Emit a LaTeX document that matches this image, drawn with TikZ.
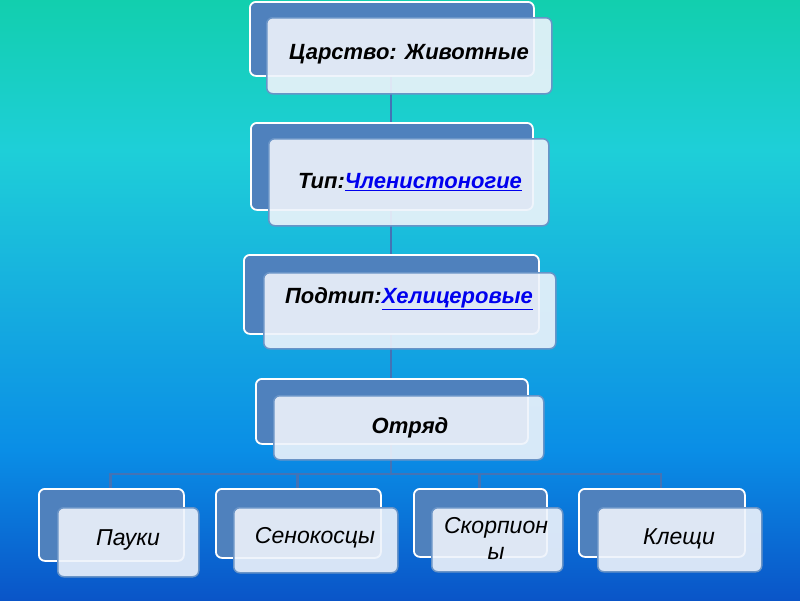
\documentclass[tikz,border=0pt]{standalone}
\usepackage{fontspec}
\setmainfont{Liberation Sans}
\definecolor{bgA}{HTML}{12CFAE}
\definecolor{bgB}{HTML}{1ECFD8}
\definecolor{bgC}{HTML}{16AEDF}
\definecolor{bgD}{HTML}{0A8EE6}
\definecolor{bgE}{HTML}{0A55C8}
\definecolor{backblue}{HTML}{4F81BD}
\definecolor{frontfill}{HTML}{EEF3FB}
\definecolor{linkblue}{HTML}{0000EE}
\definecolor{conn}{HTML}{4373B5}
\pgfdeclareverticalshading{bgshade}{100bp}{color(0bp)=(bgE); color(25bp)=(bgE); color(37.5bp)=(bgD); color(50bp)=(bgC); color(62.5bp)=(bgB); color(75bp)=(bgA); color(100bp)=(bgA)}
\tikzset{
  backbox/.style={draw=white, line width=1.8pt, fill=backblue, rounded corners=6pt, inner sep=0pt, anchor=north west},
  frontbox/.style={draw=backblue!85, line width=1.5pt, fill=frontfill, fill opacity=0.9, rounded corners=6pt, inner sep=0pt, anchor=north west},
  toptext/.style={font=\fontsize{22}{26}\selectfont\bfseries\itshape, inner sep=0pt},
  bottext/.style={font=\fontsize{23}{26}\selectfont\itshape, inner sep=0pt, align=center},
  connector/.style={draw=conn, line width=2.3pt},
}
\newcommand{\lnk}[1]{{\color{linkblue}\underline{#1}}}
\begin{document}
\begin{tikzpicture}[x=1pt,y=-1pt]
\useasboundingbox (0,0) rectangle (800,600);
\shade[shading=bgshade] (0,0) rectangle (800,600);
% named anchor points of the back boxes (for connectors drawn first)
\coordinate (b1s) at (391,75);
\coordinate (b2n) at (391,122);
\coordinate (b2s) at (391,209);
\coordinate (b3n) at (391,254);
\coordinate (b3s) at (391,333);
\coordinate (b4n) at (391,378);
\coordinate (b4s) at (391,443);
\coordinate (bus) at (391,474);
\coordinate (b5n) at (110.5,488);
\coordinate (b6n) at (297.5,488);
\coordinate (b7n) at (479.5,488);
\coordinate (b8n) at (661,488);
% connectors (behind boxes)
\draw[connector] (b1s) -- (b2n);
\draw[connector] (b2s) -- (b3n);
\draw[connector] (b3s) -- (b4n);
\draw[connector] (b4s) -- (bus);
\draw[connector] (b5n) -- (b5n |- bus) -- (b8n |- bus) -- (b8n);
\draw[connector] (b6n |- bus) -- (b6n);
\draw[connector] (b7n |- bus) -- (b7n);
% back boxes
\node[backbox, minimum width=284pt, minimum height=74pt] (b1) at (249,1) {};
\node[backbox, minimum width=282pt, minimum height=87pt] (b2) at (250,122) {};
\node[backbox, minimum width=295pt, minimum height=79pt] (b3) at (243,254) {};
\node[backbox, minimum width=272pt, minimum height=65pt] (b4) at (255,378) {};
\node[backbox, minimum width=145pt, minimum height=72pt] (b5) at (38,488) {};
\node[backbox, minimum width=165pt, minimum height=69pt] (b6) at (215,488) {};
\node[backbox, minimum width=133pt, minimum height=68pt] (b7) at (413,488) {};
\node[backbox, minimum width=166pt, minimum height=68pt] (b8) at (578,488) {};
% front boxes
\node[frontbox, minimum width=285pt, minimum height=76pt] (f1) at (266,17) {};
\node[frontbox, minimum width=280pt, minimum height=87pt] (f2) at (268,138) {};
\node[frontbox, minimum width=292pt, minimum height=76pt] (f3) at (263,272) {};
\node[frontbox, minimum width=270pt, minimum height=64pt] (f4) at (273,395) {};
\node[frontbox, minimum width=141pt, minimum height=69pt] (f5) at (57,507) {};
\node[frontbox, minimum width=164pt, minimum height=65pt] (f6) at (233,507) {};
\node[frontbox, minimum width=131pt, minimum height=64pt] (f7) at (431,507) {};
\node[frontbox, minimum width=164pt, minimum height=64pt] (f8) at (597,507) {};
% texts
\node[toptext] (t1) at (409,54) {Царство: Животные};
\node[toptext] (t2) at (410,182) {Тип:\lnk{Членистоногие}};
\node[toptext] (t3) at (409,299) {Подтип:\lnk{Хелицеровые}};
\node[toptext] (t4) at (410,428) {Отряд};
\node[bottext] (t5) at (128,540) {Пауки};
\node[bottext] (t6) at (315,538) {Сенокосцы};
\node[bottext] (t7) at (496,539) {Скорпион\\ы};
\node[bottext] (t8) at (679,539) {Клещи};
\end{tikzpicture}
\end{document}
